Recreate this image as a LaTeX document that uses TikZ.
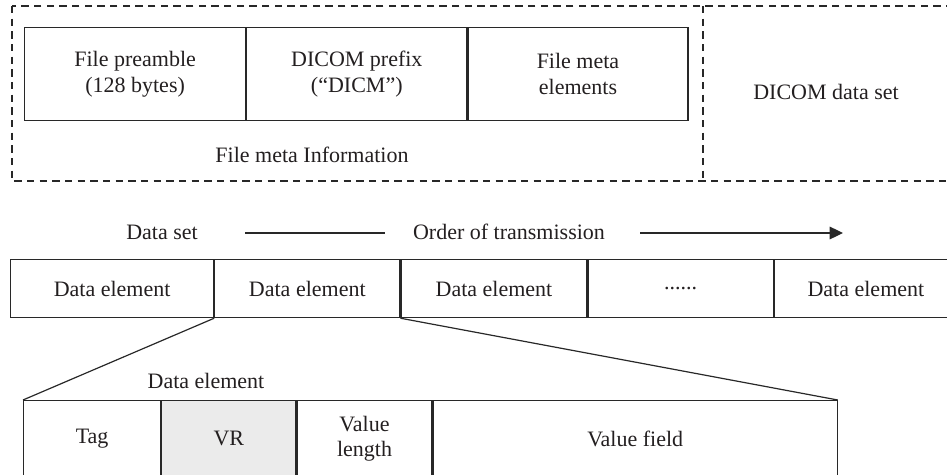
\documentclass[tikz,border=0pt]{standalone}
\usepackage{fontspec}
\setmainfont{Liberation Serif}
\usepackage{tikz}
\usetikzlibrary{arrows.meta, positioning}
\definecolor{linegray}{RGB}{40,40,40}
\definecolor{textgray}{RGB}{35,31,32}
\definecolor{vrgray}{RGB}{235,235,235}
\newlength{\pxu}
\setlength{\pxu}{0.75pt}
\tikzset{
  cell/.style={rectangle, draw=linegray, line width=0.9pt, inner sep=0pt,
               align=center, text=textgray,
               font=\fontsize{16.5}{19}\selectfont},
  lbl/.style={inner sep=0pt, text=textgray,
              font=\fontsize{16.5}{19}\selectfont},
  frame/.style={draw=linegray, line width=0.9pt,
                dash pattern=on 5.5pt off 4pt},
  conn/.style={draw=linegray, line width=0.9pt},
  arr/.style={conn, -{Triangle[length=10pt, width=9.5pt]}}
}

\begin{document}
\begin{tikzpicture}[x=\pxu, y=-\pxu]
  \clip (0,0) rectangle (947,475);

  % File meta information / data set frame
  \draw[frame] (12,6) rectangle (960,181);
  \draw[frame] (703,6) -- (703,181);

  % Top row
  \node[cell, minimum width=221\pxu, minimum height=93\pxu,
        anchor=north west] (pre) at (24,27) {File preamble\\(128 bytes)};
  \node[cell, minimum width=220\pxu, minimum height=93\pxu,
        right=0pt of pre] (pfx) {DICOM prefix\\(“DICM”)};
  \node[cell, minimum width=220\pxu, minimum height=93\pxu,
        right=0pt of pfx] (fme) {File meta\\elements};
  \node[lbl] (fmi) at (312,155) {File meta Information};
  \node[lbl] (dds) at (826,92) {DICOM data set};

  % Order of transmission
  \node[lbl] (dset) at (162,232) {Data set};
  \node[lbl] (ordr) at (509,232) {Order of transmission};
  \coordinate (lnA) at (245,233);
  \coordinate (lnB) at (385,233);
  \coordinate (arA) at (640,233);
  \coordinate (arB) at (843,233);
  \draw[conn] (lnA) -- (lnB);
  \draw[arr] (arA) -- (arB);

  % Data set row
  \node[cell, minimum width=203\pxu, minimum height=58\pxu,
        anchor=north west] (de1) at (10,259) {Data element};
  \node[cell, minimum width=185\pxu, minimum height=58\pxu,
        right=0pt of de1] (de2) {Data element};
  \node[cell, minimum width=186\pxu, minimum height=58\pxu,
        right=0pt of de2] (de3) {Data element};
  \node[cell, minimum width=185\pxu, minimum height=58\pxu,
        right=0pt of de3] (dots) {......};
  \node[cell, minimum width=183\pxu, minimum height=58\pxu,
        right=0pt of dots] (den) {Data element};

  % Data element row
  \node[lbl] (delab) at (206,381) {Data element};
  \node[cell, minimum width=137\pxu, minimum height=76\pxu,
        anchor=north west] (tag) at (23,400) {Tag};
  \node[cell, fill=vrgray, minimum width=134\pxu, minimum height=76\pxu,
        right=0pt of tag] (vr) {VR};
  \node[cell, minimum width=135\pxu, minimum height=76\pxu,
        right=0pt of vr] (vlen) {Value\\length};
  \node[cell, minimum width=404\pxu, minimum height=76\pxu,
        right=0pt of vlen] (vfld) {Value field};

  % Zoom lines
  \draw[conn] (de2.south west) -- (tag.north west);
  \draw[conn] (de2.south east) -- (vfld.north east);
\end{tikzpicture}
\end{document}
